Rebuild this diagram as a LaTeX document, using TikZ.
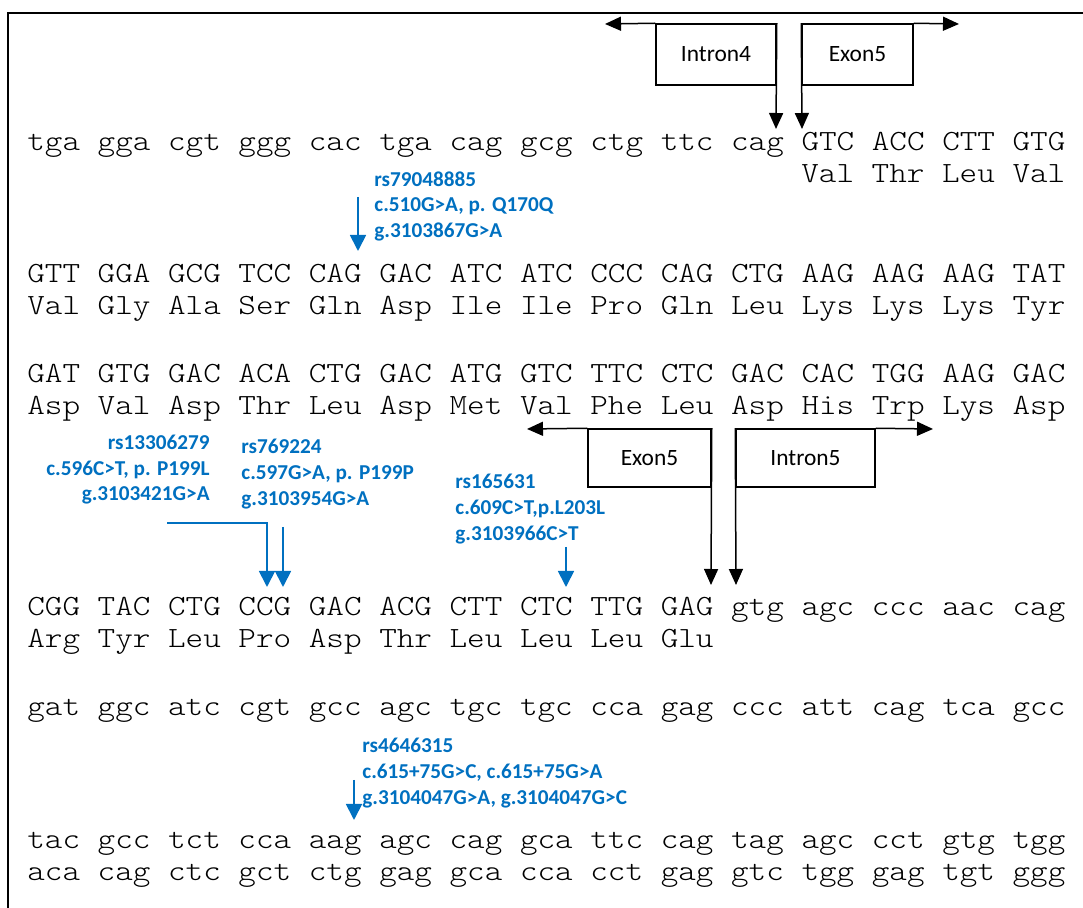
\documentclass[tikz,border=0pt]{standalone}
\usepackage{fontspec}
\usetikzlibrary{arrows.meta}
\newfontfamily\seqfont{lmmonolt10-regular.otf}[FakeStretch=1.143]
\newfontfamily\labfont{Carlito}
\definecolor{snpblue}{HTML}{0070C0}
\tikzset{
 seqrow/.style={anchor=base west, inner sep=0pt, font=\seqfont\fontsize{14.66pt}{14.66pt}\selectfont},
 snptext/.style={anchor=base west, inner sep=0pt, text=snpblue, font=\labfont\bfseries\fontsize{10.6pt}{12.75pt}\selectfont},
 snptextr/.style={snptext, anchor=base east},
 regionbox/.style={draw, line width=0.75pt, inner sep=0pt, font=\labfont\fontsize{11.7pt}{14pt}\selectfont},
 blackarrow/.style={line width=0.75pt, -{Triangle[width=7pt,length=8pt]}},
 bluearrow/.style={snpblue, line width=0.9pt, -{Triangle[width=8pt,length=8pt]}},
 framepath/.style={line width=1pt},
}
\begin{document}
\begin{tikzpicture}[x=0.5pt,y=-0.5pt]
\useasboundingbox (0,0) rectangle (1083,908);
% frame
\coordinate (fbl) at (8,910);
\coordinate (ftl) at (8,13);
\coordinate (ftr) at (1085,13);
\draw[framepath] (fbl) -- (ftl) -- (ftr);

% sequence rows
\node[seqrow] (r1) at (27,151) {tga gga cgt ggg cac tga cag gcg ctg ttc cag GTC ACC CTT GTG};
\node[seqrow] (r1a) at (801,183) {Val Thr Leu Val};
\node[seqrow] (r2) at (27,283) {GTT GGA GCG TCC CAG GAC ATC ATC CCC CAG CTG AAG AAG AAG TAT};
\node[seqrow] (r2a) at (27,315) {Val Gly Ala Ser Gln Asp Ile Ile Pro Gln Leu Lys Lys Lys Tyr};
\node[seqrow] (r3) at (27,383) {GAT GTG GAC ACA CTG GAC ATG GTC TTC CTC GAC CAC TGG AAG GAC};
\node[seqrow] (r3a) at (27,415) {Asp Val Asp Thr Leu Asp Met Val Phe Leu Asp His Trp Lys Asp};
\node[seqrow] (r4) at (27,616) {CGG TAC CTG CCG GAC ACG CTT CTC TTG GAG gtg agc ccc aac cag};
\node[seqrow] (r4a) at (27,648) {Arg Tyr Leu Pro Asp Thr Leu Leu Leu Glu};
\node[seqrow] (r5) at (27,716) {gat ggc atc cgt gcc agc tgc tgc cca gag ccc att cag tca gcc};
\node[seqrow] (r6) at (27,849) {tac gcc tct cca aag agc cag gca ttc cag tag agc cct gtg tgg};
\node[seqrow] (r7) at (27,881) {aca cag ctc gct ctg gag gca cca cct gag gtc tgg gag tgt ggg};

% top boxes
\node[regionbox, minimum width=60pt, minimum height=30.5pt] (in4) at (716,54.5) {Intron4};
\node[regionbox, minimum width=55.5pt, minimum height=30.5pt] (ex5a) at (857.5,54.5) {Exon5};
\coordinate (in4l) at (605,24);
\coordinate (in4d) at (776,129);
\coordinate (ex5r) at (959,24);
\coordinate (ex5d) at (802,129);
\draw[blackarrow] (in4.north west) -- (in4l);
\draw[blackarrow] (in4.north east) -- (in4d);
\draw[blackarrow] (ex5a.north east) -- (ex5r);
\draw[blackarrow] (ex5a.north west) -- (ex5d);

% middle boxes
\node[regionbox, minimum width=61.5pt, minimum height=29pt] (ex5b) at (649.5,458) {Exon5};
\node[regionbox, minimum width=69.5pt, minimum height=29pt] (in5) at (805.5,458) {Intron5};
\coordinate (ex5bl) at (527,429);
\coordinate (ex5bd) at (711,585);
\coordinate (in5r) at (933,429);
\coordinate (in5d) at (736,585);
\draw[blackarrow] (ex5b.north west) -- (ex5bl);
\draw[blackarrow] (ex5b.north east) -- (ex5bd);
\draw[blackarrow] (in5.north east) -- (in5r);
\draw[blackarrow] (in5.north west) -- (in5d);

% SNP rs79048885
\node[snptext] (s1a) at (374,187) {rs79048885};
\node[snptext] (s1b) at (374,212) {c.510G>A, p. Q170Q};
\node[snptext] (s1c) at (374,238) {g.3103867G>A};
\coordinate (s1s) at (358,197);
\coordinate (s1e) at (358,251);
\draw[bluearrow] (s1s) -- (s1e);

% SNP rs13306279
\node[snptextr] (s2a) at (210,450) {rs13306279};
\node[snptextr] (s2b) at (210,476) {c.596C>T, p. P199L};
\node[snptextr] (s2c) at (210,501) {g.3103421G>A};
\coordinate (s2s) at (167,523);
\coordinate (s2e) at (267,587);
\draw[bluearrow] (s2s) -| (s2e);

% SNP rs769224
\node[snptext] (s3a) at (241,454) {rs769224};
\node[snptext] (s3b) at (241,480) {c.597G>A, p. P199P};
\node[snptext] (s3c) at (241,506) {g.3103954G>A};
\coordinate (s3s) at (283,527);
\coordinate (s3e) at (283,587);
\draw[bluearrow] (s3s) -- (s3e);

% SNP rs165631
\node[snptext] (s4a) at (455,489) {rs165631};
\node[snptext] (s4b) at (455,515) {c.609C>T,p.L203L};
\node[snptext] (s4c) at (455,541) {g.3103966C>T};
\coordinate (s4s) at (566,547);
\coordinate (s4e) at (566,587);
\draw[bluearrow] (s4s) -- (s4e);

% SNP rs4646315
\node[snptext] (s5a) at (362,753) {rs4646315};
\node[snptext] (s5b) at (362,779) {c.615+75G>C, c.615+75G>A};
\node[snptext] (s5c) at (362,805) {g.3104047G>A, g.3104047G>C};
\coordinate (s5s) at (354,780);
\coordinate (s5e) at (354,820);
\draw[bluearrow] (s5s) -- (s5e);
\end{tikzpicture}
\end{document}
